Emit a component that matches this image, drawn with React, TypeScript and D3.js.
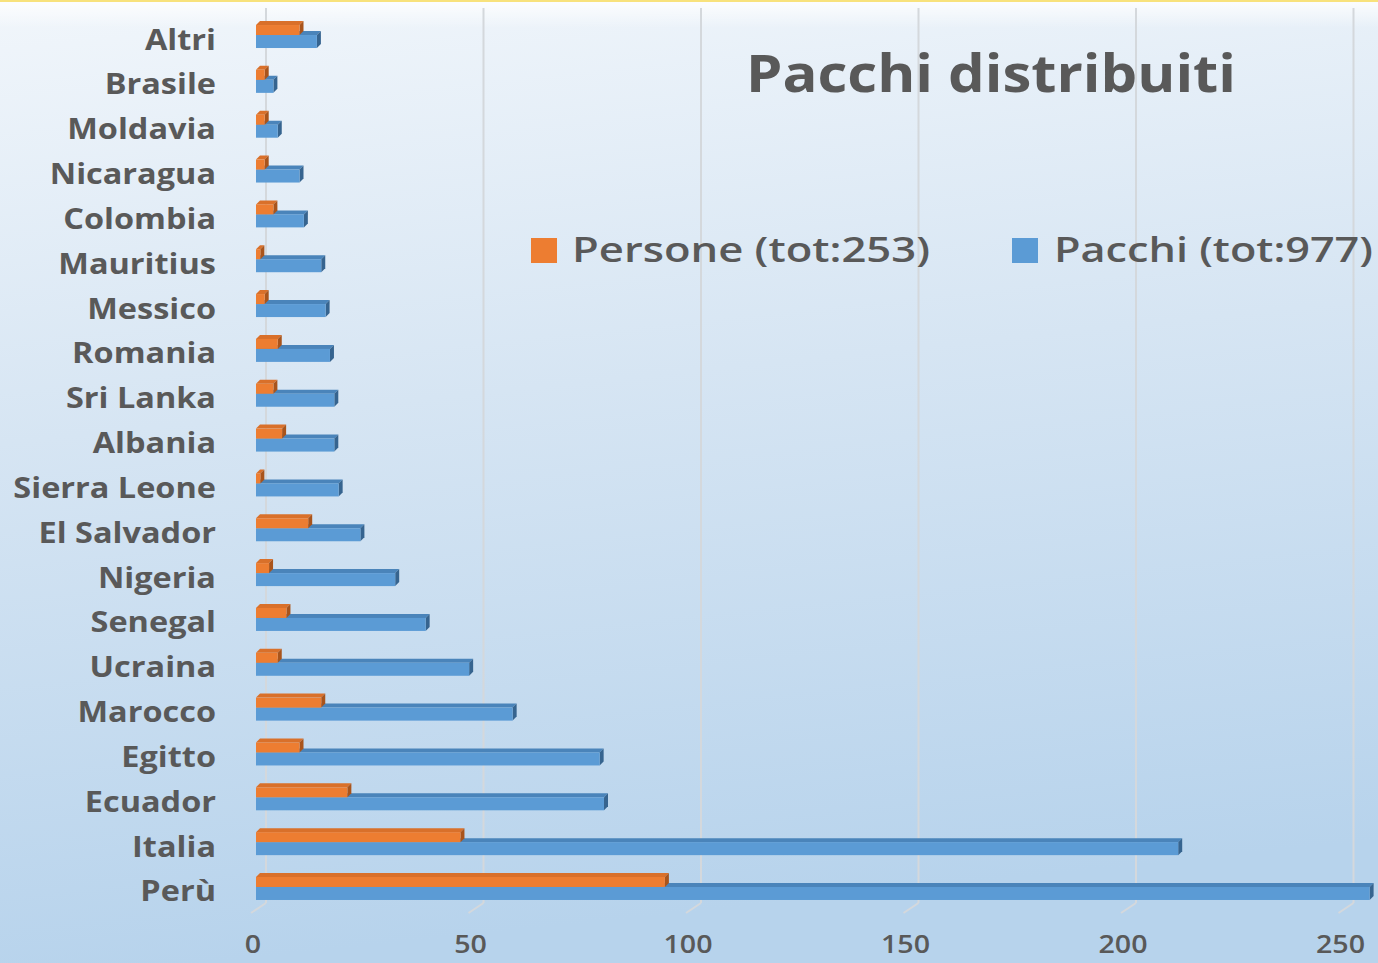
import React from "react";
import * as d3 from "d3";

const categories = ["Altri", "Brasile", "Moldavia", "Nicaragua", "Colombia", "Mauritius", "Messico", "Romania", "Sri Lanka", "Albania", "Sierra Leone", "El Salvador", "Nigeria", "Senegal", "Ucraina", "Marocco", "Egitto", "Ecuador", "Italia", "Perù"];
const persone = [10, 2, 2, 2, 4, 1, 2, 5, 4, 6, 1, 12, 3, 7, 5, 15, 10, 21, 47, 94];
const pacchi = [14, 4, 5, 10, 11, 15, 16, 17, 18, 18, 19, 24, 32, 39, 49, 59, 79, 80, 212, 256];
const ticks = [0, 50, 100, 150, 200, 250];
const seriesNames = ["Persone (tot:253)", "Pacchi (tot:977)"];
const title = "Pacchi distribuiti";

const W = 1378;
const H = 963;
const ORANGE = "#ED7D31";
const ORANGE_TOP = "#d9702a";
const ORANGE_SIDE = "#a9541b";
const BLUE = "#5B9BD5";
const BLUE_TOP = "#4a84ba";
const BLUE_SIDE = "#36648f";
const TEXT = "#595959";
const FONT = "'Open Sans', 'DejaVu Sans', sans-serif";

function Bar({ x0, x1, y, h, front, top, side }: any) {
  const d = 4;
  const topPts = [[x0, y], [x0 + d, y - d], [x1 + d, y - d], [x1, y]];
  const sidePts = [[x1, y], [x1 + d, y - d], [x1 + d, y + h - d], [x1, y + h]];
  const line = (p: number[][]) => p.map((q) => q.join(",")).join(" ");
  return (
    <g>
      <polygon points={line(topPts)} fill={top} />
      <polygon points={line(sidePts)} fill={side} />
      <rect x={x0} y={y} width={Math.max(0, x1 - x0)} height={h} fill={front} />
    </g>
  );
}

export default function App() {
  const x = d3.scaleLinear().domain([0, 250]).range([256, 256 + 1087.5]);
  const y = d3.scaleBand<string>().domain(categories).range([12.6, 909.4]).padding(0);
  const center = (c: string) => (y(c) as number) + y.bandwidth() / 2;

  return (
    <svg width={W} height={H} style={{ position: "absolute", left: 0, top: 0, display: "block" }} fontFamily={FONT}>
      <defs>
        <linearGradient id="bg" x1="0" y1="0" x2="0.15" y2="1">
          <stop offset="0" stopColor="#f1f6fb" />
          <stop offset="0.45" stopColor="#d6e5f3" />
          <stop offset="1" stopColor="#b7d3ec" />
        </linearGradient>
        <linearGradient id="topfade" x1="0" y1="0" x2="0" y2="1">
          <stop offset="0" stopColor="#ffffff" stopOpacity="0.9" />
          <stop offset="1" stopColor="#ffffff" stopOpacity="0" />
        </linearGradient>
      </defs>
      <rect x={0} y={0} width={W} height={H} fill="url(#bg)" />
      <rect x={0} y={0} width={W} height={28} fill="url(#topfade)" />
      <rect x={0} y={0} width={W} height={2} fill="#f8e27c" />

      {/* gridlines (back wall + floor) */}
      {ticks.map((t) => (
        <g key={"g" + t} stroke="#d4d8dc" strokeWidth={2} fill="none">
          <line x1={x(t) + 10} x2={x(t) + 10} y1={8} y2={903} />
          <line x1={x(t) + 10} y1={903} x2={x(t) - 5} y2={913} />
        </g>
      ))}

      {/* bars */}
      {categories.map((c, i) => {
        const cy = center(c);
        return (
          <g key={c}>
            <Bar x0={x(0)} x1={x(pacchi[i])} y={cy} h={13} front={BLUE} top={BLUE_TOP} side={BLUE_SIDE} />
            <Bar x0={x(0)} x1={x(persone[i])} y={cy - 10} h={10} front={ORANGE} top={ORANGE_TOP} side={ORANGE_SIDE} />
          </g>
        );
      })}

      {/* category labels */}
      {categories.map((c) => (
        <g key={"l" + c} transform={`translate(216,${center(c) + 14.5}) scale(1.16,1)`}>
          <text textAnchor="end" fontSize={28} fontWeight={700} fill={TEXT}>{c}</text>
        </g>
      ))}

      {/* tick labels */}
      {ticks.map((t) => (
        <g key={"t" + t} transform={`translate(${x(t) - 3},953) scale(1.1,1)`}>
          <text textAnchor="middle" fontSize={26} fontWeight={600} fill={TEXT}>{t}</text>
        </g>
      ))}

      {/* title */}
      <text x={746} y={92} fontSize={52} fontWeight={700} fill={TEXT} textLength={490} lengthAdjust="spacingAndGlyphs">{title}</text>

      {/* legend */}
      <rect x={531} y={238} width={26} height={25} fill={ORANGE} />
      <text x={572} y={262} fontSize={35} fontWeight={600} fill={TEXT} textLength={358} lengthAdjust="spacingAndGlyphs">{seriesNames[0]}</text>
      <rect x={1012} y={238} width={26} height={25} fill={BLUE} />
      <text x={1054} y={262} fontSize={35} fontWeight={600} fill={TEXT} textLength={319} lengthAdjust="spacingAndGlyphs">{seriesNames[1]}</text>
    </svg>
  );
}
